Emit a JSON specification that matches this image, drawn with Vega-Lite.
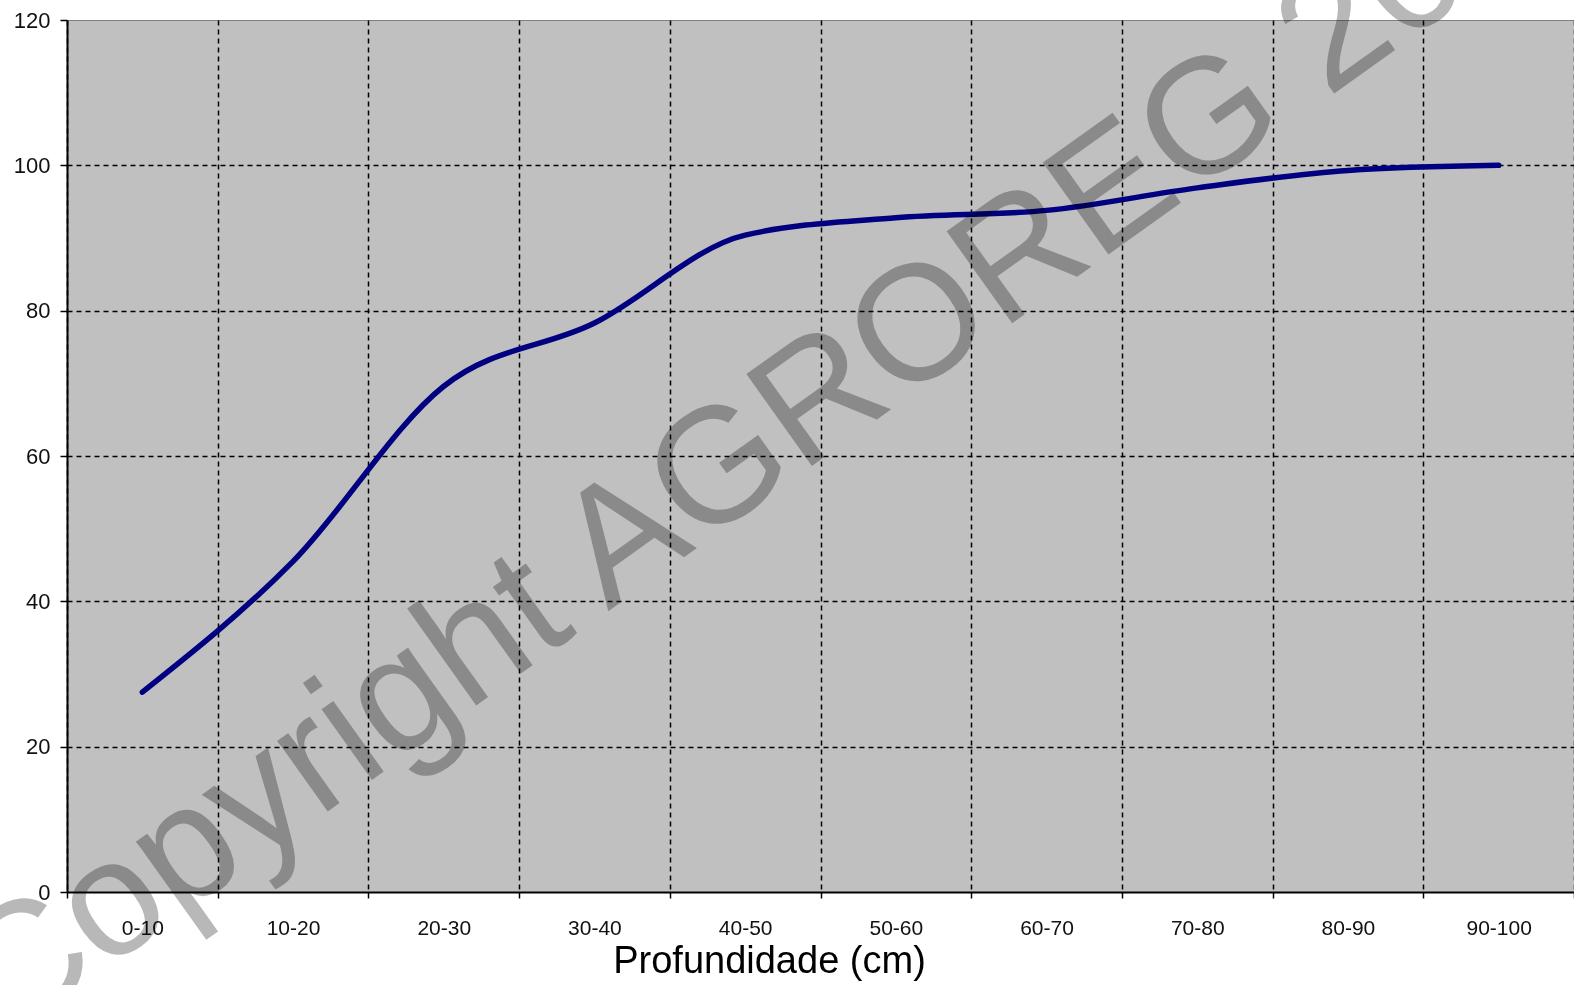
{
  "$schema": "https://vega.github.io/schema/vega-lite/v6.json",
  "width": 1507,
  "height": 872,
  "autosize": {"type": "none"},
  "padding": {"left": 67, "top": 20, "right": 0, "bottom": 93},
  "background": "white",
  "config": {
    "view": {"fill": "#C0C0C0", "stroke": "#808080", "strokeWidth": 1},
    "font": "Liberation Sans"
  },
  "data": {
    "values": [
      {"profundidade": "0-10", "valor": 27.5},
      {"profundidade": "10-20", "valor": 45.5},
      {"profundidade": "20-30", "valor": 69.6},
      {"profundidade": "30-40", "valor": 78.3},
      {"profundidade": "40-50", "valor": 90.4},
      {"profundidade": "50-60", "valor": 92.8},
      {"profundidade": "60-70", "valor": 93.8},
      {"profundidade": "70-80", "valor": 96.9},
      {"profundidade": "80-90", "valor": 99.3},
      {"profundidade": "90-100", "valor": 100}
    ]
  },
  "layer": [
    {
      "mark": {"type": "line", "interpolate": "monotone", "color": "#000080", "strokeWidth": 5.5, "strokeCap": "round"},
      "encoding": {
        "x": {
          "field": "profundidade", "type": "ordinal", "sort": null,
          "scale": {"paddingInner": 0, "paddingOuter": 0},
          "axis": {
            "title": "Profundidade (cm)", "titleFontSize": 38, "titleFontWeight": "normal", "titleColor": "#000",
            "titleX": 702, "titlePadding": 4,
            "labelAngle": 0, "labelFontSize": 21, "labelColor": "#111", "labelPadding": 19,
            "tickBand": "extent", "tickSize": 6, "tickColor": "#000", "tickWidth": 1.5,
            "domainColor": "#000", "domainWidth": 2,
            "grid": true, "gridColor": "#000", "gridDash": [5, 4], "gridWidth": 1.5, "gridOpacity": 1
          }
        },
        "y": {
          "field": "valor", "type": "quantitative",
          "scale": {"domain": [0, 120], "nice": false},
          "axis": {
            "title": null, "values": [0, 20, 40, 60, 80, 100, 120],
            "labelFontSize": 22, "labelColor": "#111", "labelPadding": 10,
            "tickSize": 7, "tickColor": "#000", "tickWidth": 1.5,
            "domainColor": "#000", "domainWidth": 2,
            "grid": true, "gridColor": "#000", "gridDash": [5, 4], "gridWidth": 1.5,
            "gridOpacity": {"condition": {"test": "datum.value === 120 || datum.value === 0", "value": 0}, "value": 1}
          }
        }
      }
    },
    {
      "data": {"values": [{"posicao": -0.399, "nivel": -20.4, "texto": "Copyright AGROREG 20"}]},
      "mark": {"type": "text", "angle": -35.5, "fontSize": 164, "align": "left", "baseline": "alphabetic", "color": "#b8b8b8", "blend": "multiply", "font": "Liberation Sans"},
      "encoding": {
        "x": {"field": "posicao", "type": "quantitative", "scale": {"domain": [0, 10], "nice": false, "zero": false}, "axis": null},
        "y": {"field": "nivel", "type": "quantitative", "scale": {"domain": [0, 120], "nice": false, "zero": false}, "axis": null},
        "text": {"field": "texto"}
      }
    }
  ],
  "resolve": {"scale": {"x": "independent", "y": "independent"}}
}
